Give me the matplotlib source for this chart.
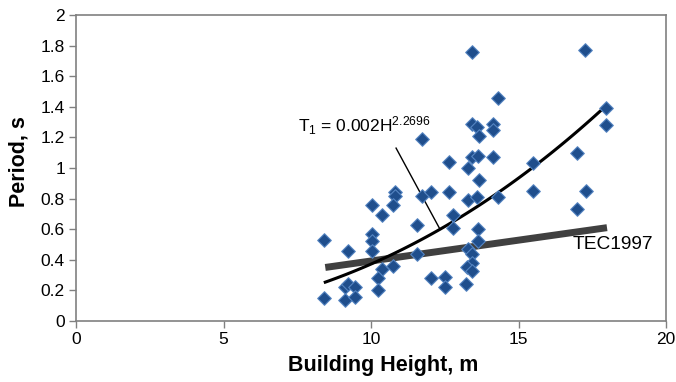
import numpy as np
import matplotlib
matplotlib.use("Agg")
import matplotlib.pyplot as plt

plt.rcParams['font.family'] = ['Liberation Sans', 'DejaVu Sans']
plt.rcParams['mathtext.fontset'] = 'custom'
plt.rcParams['mathtext.rm'] = 'Liberation Sans'
plt.rcParams['mathtext.it'] = 'Liberation Sans:italic'
plt.rcParams['mathtext.bf'] = 'Liberation Sans:bold'

# Measured data: building height (m) and period (s)
height = [8.41, 8.41, 9.22, 9.12, 9.22, 9.46, 9.12, 9.46, 10.03, 10.37,
          10.03, 10.03, 10.03, 10.37, 10.24, 10.24, 10.75, 10.81, 10.81, 10.75,
          11.56, 11.56, 12.64, 13.42, 13.63, 14.14, 13.29, 13.66, 11.73, 12.03,
          12.64, 13.29, 13.59, 14.31, 12.78, 12.78, 13.63, 13.63, 13.29, 13.42,
          13.42, 13.25, 13.42, 12.03, 12.51, 12.51, 13.22, 13.42, 14.31, 11.73,
          13.42, 13.59, 13.66, 14.14, 14.14, 17.25, 17.97, 17.97, 16.98, 15.49,
          15.49, 17.29, 16.98]
period = [0.53, 0.15, 0.46, 0.22, 0.24, 0.22, 0.14, 0.16, 0.76, 0.69,
          0.57, 0.52, 0.46, 0.34, 0.28, 0.20, 0.36, 0.84, 0.82, 0.76,
          0.63, 0.44, 1.04, 1.07, 1.08, 1.07, 1.00, 0.92, 0.82, 0.84,
          0.84, 0.79, 0.81, 0.81, 0.69, 0.61, 0.60, 0.52, 0.47, 0.44,
          0.38, 0.35, 0.33, 0.28, 0.29, 0.22, 0.24, 1.76, 1.46, 1.19,
          1.29, 1.27, 1.21, 1.29, 1.25, 1.77, 1.39, 1.28, 1.10, 1.03,
          0.85, 0.85, 0.73]

# Fitted power law T1 = a * H^b (as annotated)
fit_a = 0.002
fit_b = 2.2696
fit_range = [8.45, 18.0]

# TEC1997 line end points
tec_h = [8.45, 18.0]
tec_t = [0.35, 0.61]

xticks = [0, 5, 10, 15, 20]
yticks = [0, 0.2, 0.4, 0.6, 0.8, 1.0, 1.2, 1.4, 1.6, 1.8, 2.0]
ytick_labels = ['0', '0.2', '0.4', '0.6', '0.8', '1', '1.2', '1.4', '1.6', '1.8', '2']

fig = plt.figure(figsize=(6.76, 3.82), dpi=100)
ax = fig.add_axes([76/676, 1-321/382, 590/676, 306/382])

ax.plot(tec_h, tec_t, color='#404040', lw=5, solid_capstyle='butt', zorder=2)
hh = np.linspace(fit_range[0], fit_range[1], 100)
ax.plot(hh, fit_a * hh**fit_b, color='black', lw=2.2, zorder=3)

ax.scatter(height, period, marker='D', s=48, facecolor='#1f4e8c',
           edgecolor='#5585c2', linewidth=0.8, zorder=4)

ax.plot([10.85, 12.31], [1.13, 0.61], color='black', lw=1.0, zorder=3)
ax.text(7.53, 1.235, r'T$_1$ = 0.002H$^{2.2696}$', fontsize=12.5, va='baseline', ha='left')
ax.text(16.85, 0.47, 'TEC1997', fontsize=13.8, va='baseline', ha='left')

ax.set_xlim(0, 20)
ax.set_ylim(0, 2)
ax.set_xticks(xticks)
ax.set_xticklabels([str(t) for t in xticks])
ax.set_yticks(yticks)
ax.set_yticklabels(ytick_labels)
for s in ax.spines.values():
    s.set_color('#808080')
    s.set_linewidth(1.2)
ax.tick_params(direction='out', length=5, color='#808080', width=1, labelsize=12.5, pad=3)

ax.set_xlabel('Building Height, m', fontsize=15.5, fontweight='bold', va='center')
ax.set_ylabel('Period, s', fontsize=15.5, fontweight='bold', va='center')
ax.xaxis.set_label_coords((383 - 76) / 590, (321 - 366) / 306)
ax.yaxis.set_label_coords((19 - 76) / 590, (321 - 162) / 306)

fig.savefig('out.png', dpi=100)
